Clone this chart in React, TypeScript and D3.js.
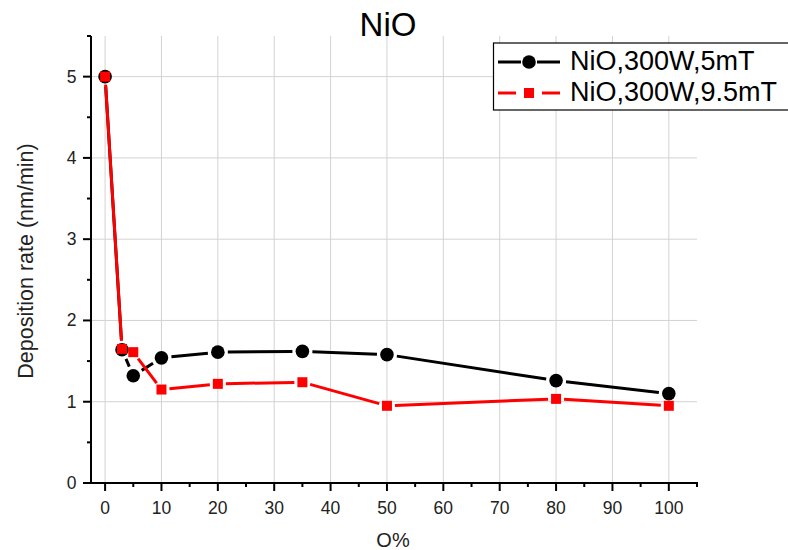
import React from "react";
import * as d3 from "d3";

const xValues = [0, 3, 5, 10, 20, 35, 50, 80, 100];
const series5mT = [5.0, 1.64, 1.32, 1.54, 1.61, 1.62, 1.58, 1.26, 1.1];
const series95mT = [5.0, 1.65, 1.61, 1.15, 1.22, 1.24, 0.95, 1.035, 0.95];
const xTicks = [0, 10, 20, 30, 40, 50, 60, 70, 80, 90, 100];
const xMinorTicks = [5, 15, 25, 35, 45, 55, 65, 75, 85, 95, 105];
const yTicks = [0, 1, 2, 3, 4, 5];
const yMinorTicks = [0.5, 1.5, 2.5, 3.5, 4.5];
const seriesNames = ["NiO,300W,5mT", "NiO,300W,9.5mT"];

const W = 788;
const H = 550;
const left = 91;
const right = 697;
const top = 36;
const bottom = 483;
const FONT = "'Liberation Sans', Arial, sans-serif";

function gappedSegments(pts: [number, number][], gap: number) {
  const segs: string[] = [];
  for (let i = 0; i < pts.length - 1; i++) {
    const [x1, y1] = pts[i];
    const [x2, y2] = pts[i + 1];
    const dx = x2 - x1;
    const dy = y2 - y1;
    const len = Math.hypot(dx, dy);
    if (len <= 2 * gap) continue;
    const ux = dx / len;
    const uy = dy / len;
    segs.push(
      `M${x1 + ux * gap},${y1 + uy * gap}L${x2 - ux * gap},${y2 - uy * gap}`
    );
  }
  return segs.join("");
}

export default function App() {
  const x = d3.scaleLinear().domain([-2.5, 105]).range([left, right]);
  const y = d3.scaleLinear().domain([0, 5.5]).range([bottom, top]);

  const ptsA: [number, number][] = xValues.map((v, i) => [x(v), y(series5mT[i])]);
  const ptsB: [number, number][] = xValues.map((v, i) => [x(v), y(series95mT[i])]);

  const grid = "#d3d3d3";
  const sq = 10;

  return (
    <svg
      width={W}
      height={H}
      style={{ position: "absolute", left: 0, top: 0, background: "#fff" }}
      fontFamily={FONT}
    >
      <rect x={0} y={0} width={W} height={H} fill="#fff" />
      {/* grid */}
      {xTicks.map((t) => (
        <line key={"gx" + t} x1={x(t)} x2={x(t)} y1={top} y2={bottom} stroke={grid} strokeWidth={1} />
      ))}
      {yTicks.filter((t) => t > 0).map((t) => (
        <line key={"gy" + t} x1={left} x2={right} y1={y(t)} y2={y(t)} stroke={grid} strokeWidth={1} />
      ))}

      {/* axes */}
      <line x1={left} x2={left} y1={top} y2={bottom + 1} stroke="#000" strokeWidth={2} />
      <line x1={left - 1} x2={right + 1} y1={bottom} y2={bottom} stroke="#000" strokeWidth={2} />
      {xTicks.map((t) => (
        <g key={"xt" + t}>
          <line x1={x(t)} x2={x(t)} y1={bottom} y2={bottom + 8} stroke="#000" strokeWidth={2} />
          <text x={x(t)} y={513.5} fontSize={17.5} textAnchor="middle" fill="#222">
            {t}
          </text>
        </g>
      ))}
      {xMinorTicks.map((t) => (
        <line key={"xm" + t} x1={x(t)} x2={x(t)} y1={bottom} y2={bottom + 4} stroke="#000" strokeWidth={2} />
      ))}
      {yTicks.map((t) => (
        <g key={"yt" + t}>
          <line x1={left - 8} x2={left} y1={y(t)} y2={y(t)} stroke="#000" strokeWidth={2} />
          <text x={76.5} y={y(t) + 6} fontSize={17.5} textAnchor="end" fill="#222">
            {t}
          </text>
        </g>
      ))}
      {yMinorTicks.map((t) => (
        <line key={"ym" + t} x1={left - 4} x2={left} y1={y(t)} y2={y(t)} stroke="#000" strokeWidth={2} />
      ))}
      <line x1={left - 4} x2={left} y1={top} y2={top} stroke="#000" strokeWidth={2} />

      {/* series lines */}
      <path d={gappedSegments(ptsA, 10)} stroke="#000" strokeWidth={3} fill="none" />
      {ptsA.map(([px, py], i) => (
        <circle key={"ca" + i} cx={px} cy={py} r={6.8} fill="#000" />
      ))}
      <path d={gappedSegments(ptsB, 8)} stroke="#ff0000" strokeWidth={3} fill="none" />
      {ptsB.map(([px, py], i) => (
        <rect key={"rb" + i} x={px - sq / 2} y={py - sq / 2} width={sq} height={sq} fill="#ff0000" />
      ))}

      {/* title & labels */}
      <text x={388} y={36} fontSize={33} textAnchor="middle" fill="#000">
        NiO
      </text>
      <text x={393} y={547} fontSize={20} textAnchor="middle" fill="#222">
        O%
      </text>
      <text
        transform={`translate(33,261) rotate(-90)`}
        fontSize={21.5}
        textAnchor="middle"
        fill="#222"
      >
        Deposition rate (nm/min)
      </text>

      {/* legend */}
      <rect x={493.5} y={43} width={310} height={67} fill="#fff" stroke="#000" strokeWidth={1.2} />
      <line x1={498} x2={521} y1={62} y2={62} stroke="#000" strokeWidth={3} />
      <line x1={537} x2={560} y1={62} y2={62} stroke="#000" strokeWidth={3} />
      <circle cx={529} cy={62} r={6.8} fill="#000" />
      <text x={570} y={70} fontSize={27} fill="#000">
        {seriesNames[0]}
      </text>
      <line x1={498} x2={516} y1={93} y2={93} stroke="#ff0000" strokeWidth={3} />
      <line x1={542} x2={560} y1={93} y2={93} stroke="#ff0000" strokeWidth={3} />
      <rect x={529 - sq / 2} y={93 - sq / 2} width={sq} height={sq} fill="#ff0000" />
      <text x={570} y={101} fontSize={27} fill="#000">
        {seriesNames[1]}
      </text>
    </svg>
  );
}
